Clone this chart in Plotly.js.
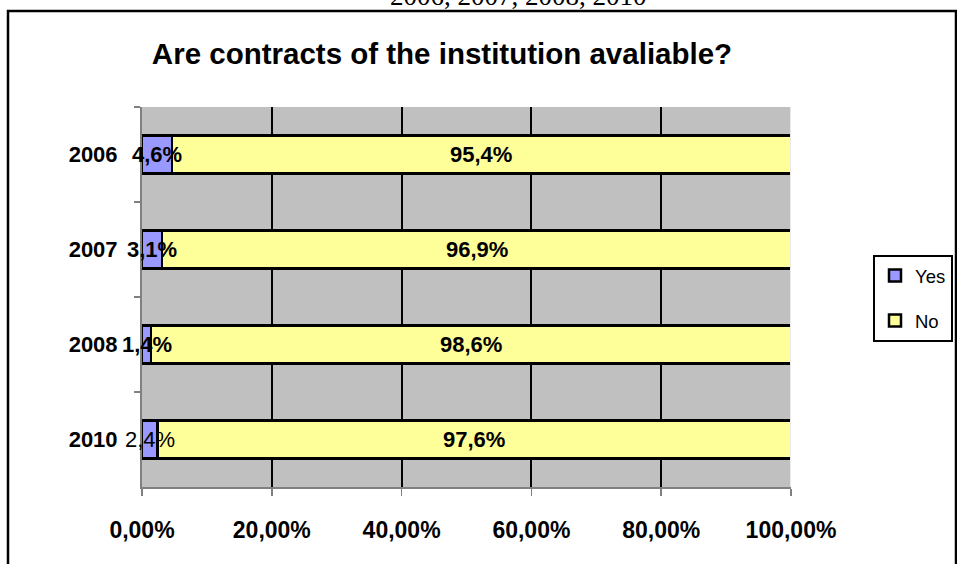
<!DOCTYPE html>
<html>
<head>
<meta charset="utf-8">
<script src="https://cdn.plot.ly/plotly-3.0.1.min.js"></script>
<style>html,body{margin:0;padding:0;background:#fff;}#chart{width:957px;height:564px;}</style>
</head>
<body>
<div id="chart"></div>
<script>
// ---- data ----
var years = ['2006', '2007', '2008', '2010'];
var yesValues = [4.6, 3.1, 1.4, 2.4];
var noValues = [95.4, 96.9, 98.6, 97.6];
var xTickVals = [0, 20, 40, 60, 80, 100];
var xTickText = ['0,00%', '20,00%', '40,00%', '60,00%', '80,00%', '100,00%'];
var seriesNames = ['Yes', 'No'];
var chartTitle = 'Are contracts of the institution avaliable?';
var topCaption = '2006, 2007, 2008, 2010';

function pct(v) { return v.toFixed(1).replace('.', ',') + '%'; }

// ---- layout geometry (pixels) ----
var W = 957, H = 564;
var L = 142, R = 791, T = 107, B = 487;
function px2paperX(px) { return (px - L) / (R - L); }
function px2paperY(py) { return (B - py) / (B - T); }

var FONT = 'Liberation Sans, Arial, sans-serif';

var traces = [
  {
    type: 'bar', orientation: 'h', name: seriesNames[0], legendgroup: 'g1',
    y: years, x: yesValues,
    marker: {color: '#9999FF', line: {color: '#000000', width: 2.5}},
    hoverinfo: 'none'
  },
  {
    type: 'bar', orientation: 'h', name: seriesNames[1], legendgroup: 'g2',
    y: years, x: noValues,
    marker: {color: '#FFFF99', line: {color: '#000000', width: 2.5}},
    hoverinfo: 'none'
  }
];

var annotations = [];
years.forEach(function (yr, i) {
  // y given as category index (numeric-looking category names would be read as numbers)
  annotations.push({
    xref: 'x', yref: 'y', x: yesValues[i] / 2, y: i, text: pct(yesValues[i]),
    showarrow: false,
    font: {family: FONT, size: 22, color: '#000', weight: (yr === '2010' ? 'normal' : 'bold')}
  });
  annotations.push({
    xref: 'x', yref: 'y', x: yesValues[i] + noValues[i] / 2, y: i, text: pct(noValues[i]),
    showarrow: false,
    font: {family: FONT, size: 22, color: '#000', weight: 'bold'}
  });
});
annotations.push({
  xref: 'paper', yref: 'paper', x: px2paperX(518), y: px2paperY(-4),
  xanchor: 'center', yanchor: 'middle', text: topCaption, showarrow: false,
  font: {family: 'Liberation Serif, Times New Roman, serif', size: 27, color: '#000'}
});

var layout = {
  width: W, height: H,
  margin: {l: L, r: W - R, t: T, b: H - B, pad: 0, autoexpand: false},
  paper_bgcolor: '#FFFFFF',
  plot_bgcolor: '#C0C0C0',
  font: {family: FONT, color: '#000'},
  barmode: 'stack',
  bargap: 0.6,
  showlegend: true,
  title: {
    text: chartTitle,
    font: {family: FONT, size: 29.5, weight: 'bold', color: '#000'},
    xref: 'paper', x: px2paperX(442), xanchor: 'center',
    yref: 'container', y: 1 - 54 / H, yanchor: 'middle'
  },
  xaxis: {
    range: [0, 100], tickmode: 'array', tickvals: xTickVals, ticktext: xTickText,
    showgrid: true, gridcolor: '#000000', gridwidth: 2,
    zeroline: false,
    showline: true, linecolor: '#808080', linewidth: 2,
    ticks: 'outside', ticklen: 7, tickcolor: '#808080', tickwidth: 1.5,
    tickfont: {family: FONT, size: 23, weight: 'bold', color: '#000'},
    ticklabelstandoff: 14,
    fixedrange: true
  },
  yaxis: {
    type: 'category',
    categoryorder: 'array', categoryarray: years,
    range: [years.length - 0.5, -0.5],
    showgrid: false, zeroline: false,
    showline: true, linecolor: '#808080', linewidth: 2,
    ticks: 'outside', tickson: 'boundaries', ticklen: 6, tickcolor: '#808080', tickwidth: 1.5,
    tickfont: {family: FONT, size: 22, weight: 'bold', color: '#000'},
    ticklabelstandoff: 18,
    fixedrange: true
  },
  legend: {
    x: px2paperX(873), y: px2paperY(255), xanchor: 'left', yanchor: 'top',
    bgcolor: '#FFFFFF', bordercolor: '#000000', borderwidth: 2,
    font: {family: FONT, size: 18.5, color: '#000'},
    traceorder: 'grouped', tracegroupgap: 18
  },
  shapes: [
    {type: 'line', xref: 'x', yref: 'paper', x0: 100, x1: 100, y0: 0, y1: 1,
     line: {color: '#E8E8E8', width: 2}, layer: 'above'},
    {type: 'rect', xref: 'paper', yref: 'paper',
     x0: px2paperX(8), x1: px2paperX(956), y0: px2paperY(11), y1: px2paperY(580),
     line: {color: '#000000', width: 2.5}, fillcolor: 'rgba(0,0,0,0)', layer: 'above'}
  ],
  annotations: annotations
};

Plotly.newPlot('chart', traces, layout, {staticPlot: true, displayModeBar: false});
</script>
</body>
</html>
